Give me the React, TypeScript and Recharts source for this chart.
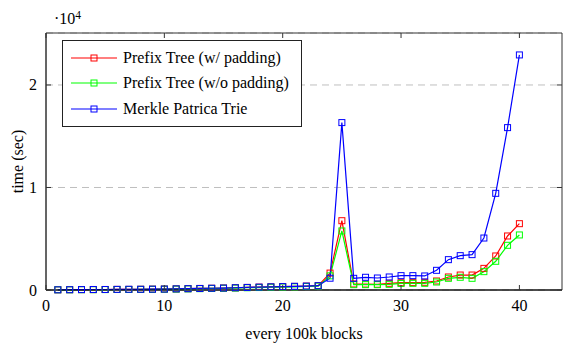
import {
  LineChart,
  Line,
  XAxis,
  YAxis,
  CartesianGrid,
  Legend,
  Label,
  ReferenceArea,
} from "recharts";

const blocks = [
  1, 2, 3, 4, 5, 6, 7, 8, 9, 10, 11, 12, 13, 14, 15, 16, 17, 18, 19, 20, 21,
  22, 23, 24, 25, 26, 27, 28, 29, 30, 31, 32, 33, 34, 35, 36, 37, 38, 39, 40,
];

const prefixPadded = [
  20, 30, 40, 40, 50, 60, 60, 70, 80, 90, 110, 130, 150, 170, 190, 220, 250,
  280, 300, 330, 350, 380, 420, 1650, 6760, 590, 580, 560, 650, 710, 720, 750,
  880, 1270, 1460, 1460, 2110, 3320, 5270, 6470,
];

const prefixUnpadded = [
  20, 20, 30, 30, 40, 50, 50, 60, 70, 80, 90, 110, 130, 150, 170, 190, 220,
  240, 270, 290, 310, 340, 380, 1380, 5760, 520, 520, 520, 550, 640, 650, 650,
  780, 1140, 1240, 1140, 1790, 2800, 4360, 5370,
];

const merkle = [
  20, 30, 40, 50, 50, 60, 70, 70, 80, 90, 110, 130, 150, 170, 190, 220, 250,
  280, 310, 330, 360, 380, 420, 1150, 16330, 1140, 1240, 1170, 1270, 1400,
  1400, 1370, 1920, 2960, 3350, 3450, 5070, 9430, 15840, 22930,
];

const xTicks = [0, 10, 20, 30, 40];
const yTicks = [0, 10000, 20000];
const xMax = 43.6;
const yMax = 25070;

const series = [
  { key: "padded", name: "Prefix Tree (w/ padding)", color: "#ff0000", values: prefixPadded },
  { key: "unpadded", name: "Prefix Tree (w/o padding)", color: "#00ff00", values: prefixUnpadded },
  { key: "merkle", name: "Merkle Patrica Trie", color: "#0000ff", values: merkle },
];

const data = blocks.map((x, i) => {
  const row: { [key: string]: number } = { x };
  series.forEach((s) => (row[s.key] = s.values[i]));
  return row;
});

const FONT = "Liberation Serif, DejaVu Serif, serif";
const AXIS = "#333";
const TOP = 33;
const RIGHT = 562;

function SquareDot(props: any) {
  const { cx, cy, stroke } = props;
  if (cx == null || cy == null) return null;
  return (
    <rect x={cx - 3} y={cy - 3} width={6} height={6} fill="none" stroke={stroke} strokeWidth={1} />
  );
}

function XTick(props: any) {
  const { x, y, payload } = props;
  return (
    <g>
      <line x1={x} x2={x} y1={y} y2={y - 5} stroke={AXIS} />
      <line x1={x} x2={x} y1={TOP} y2={TOP + 5} stroke={AXIS} />
      <text x={x} y={y + 21} textAnchor="middle" fontSize={16} style={{ fontFamily: FONT }} fill="#000">
        {payload.value}
      </text>
    </g>
  );
}

function YTick(props: any) {
  const { x, y, payload } = props;
  return (
    <g>
      <line x1={x} x2={x + 5} y1={y} y2={y} stroke={AXIS} />
      <line x1={RIGHT - 5} x2={RIGHT} y1={y} y2={y} stroke={AXIS} />
      <text x={x - 9} y={y + 5.5} textAnchor="end" fontSize={16} style={{ fontFamily: FONT }} fill="#000">
        {payload.value / 10000}
      </text>
    </g>
  );
}

// legend drawn from the series list so the order stays as in the figure
function LegendBox() {
  return (
    <div
      style={{
        border: "1px solid #222",
        background: "#fff",
        width: 240,
        height: 87,
        padding: "4px 0 0 8px",
        boxSizing: "border-box",
        fontFamily: FONT,
        fontSize: 16,
      }}
    >
      {series.map((s) => (
        <div key={s.key} style={{ display: "flex", alignItems: "center", height: 25.5 }}>
          <svg width={46} height={10} style={{ marginRight: 6 }}>
            <line x1={0} x2={46} y1={5} y2={5} stroke={s.color} strokeWidth={1.2} />
            <rect x={20} y={2} width={6} height={6} fill="none" stroke={s.color} />
          </svg>
          <span style={{ color: "#000" }}>{s.name}</span>
        </div>
      ))}
    </div>
  );
}

export default function App() {
  return (
    <div style={{ position: "absolute", left: 0, top: 0, background: "#fff", fontFamily: FONT }}>
      <LineChart
        width={564}
        height={346}
        data={data}
        margin={{ top: TOP, right: 564 - RIGHT, bottom: 0, left: 0 }}
      >
        <CartesianGrid vertical={false} stroke="#bfbfbf" strokeDasharray="7 5" />
        <XAxis
          dataKey="x"
          type="number"
          domain={[0, xMax]}
          ticks={xTicks}
          height={56}
          tickSize={0}
          tickMargin={0}
          tickLine={false}
          axisLine={{ stroke: "#000", strokeWidth: 1.2 }}
          tick={<XTick />}
        >
          <Label
            content={(p: any) => {
              const vb = p.viewBox;
              return (
                <text x={vb.x + vb.width / 2} y={339} textAnchor="middle" fontSize={16} style={{ fontFamily: FONT }} fill="#000">
                  every 100k blocks
                </text>
              );
            }}
          />
        </XAxis>
        <YAxis
          type="number"
          domain={[0, yMax]}
          ticks={yTicks}
          width={46}
          tickSize={0}
          tickMargin={0}
          tickLine={false}
          axisLine={{ stroke: AXIS }}
          tick={<YTick />}
        >
          <Label
            content={(p: any) => {
              const vb = p.viewBox;
              const cy = vb.y + vb.height / 2;
              return (
                <text
                  x={17}
                  y={cy}
                  transform={`rotate(-90 17 ${cy})`}
                  textAnchor="middle"
                  dominantBaseline="central"
                  fontSize={16}
                  style={{ fontFamily: FONT }}
                  fill="#000"
                >
                  time (sec)
                </text>
              );
            }}
          />
          <Label
            content={() => (
              <text x={54} y={24} fontSize={16} style={{ fontFamily: FONT }} fill="#000">
                ·10
                <tspan dy={-5} fontSize={11.5}>4</tspan>
              </text>
            )}
          />
        </YAxis>
        <ReferenceArea
          x1={0}
          x2={xMax}
          y1={0}
          y2={yMax}
          fill="none"
          stroke={AXIS}
          strokeWidth={1}
          ifOverflow="visible"
        />
        {series.map((s) => (
          <Line
            key={s.key}
            dataKey={s.key}
            name={s.name}
            type="linear"
            stroke={s.color}
            strokeWidth={1.2}
            dot={<SquareDot />}
            activeDot={false}
            isAnimationActive={false}
          />
        ))}
        <Legend
          layout="vertical"
          align="center"
          verticalAlign="middle"
          content={<LegendBox />}
          wrapperStyle={{ left: 62, top: 40, width: 240, height: 87 }}
        />
      </LineChart>
    </div>
  );
}
